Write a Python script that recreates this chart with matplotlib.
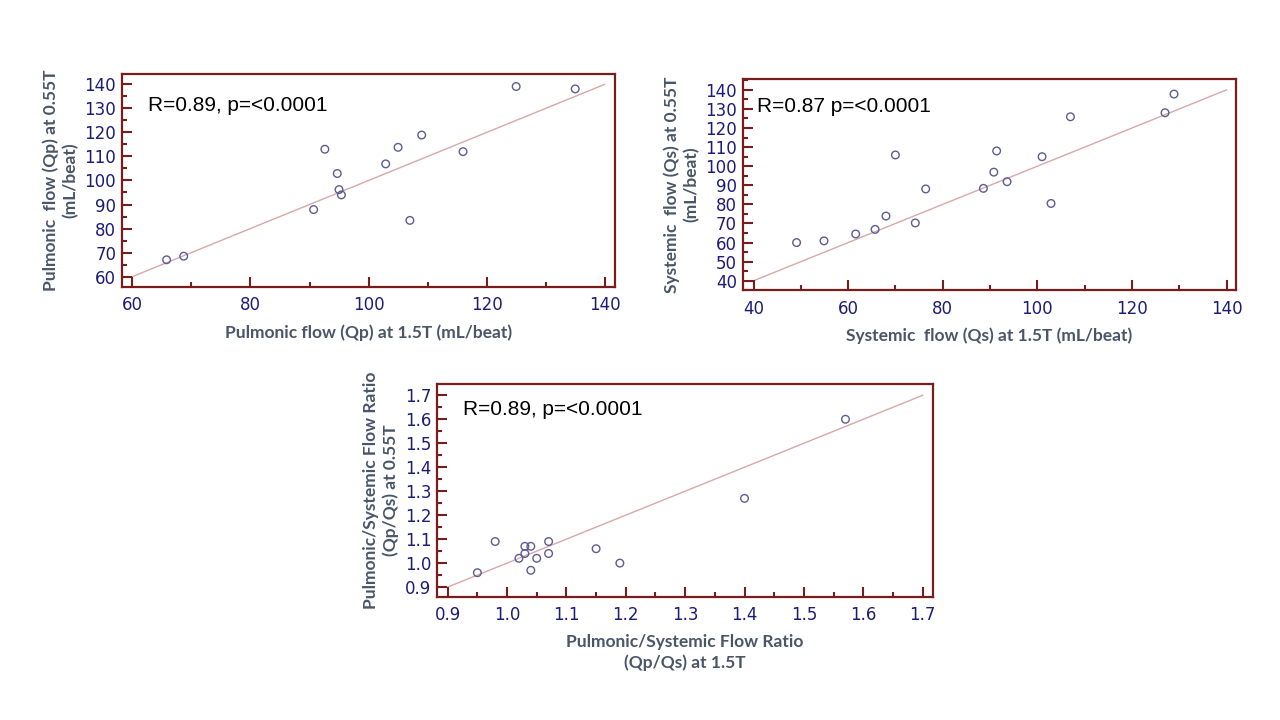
import matplotlib
matplotlib.use("Agg")
import matplotlib.pyplot as plt
from matplotlib.ticker import MultipleLocator

# ---- data ----
qp_15 = [65.8, 68.7, 90.7, 92.6, 94.7, 95.0, 95.4, 102.9, 105.0, 107.0, 109.0, 116.0, 125.0, 135.0]
qp_055 = [67.0, 68.5, 87.9, 113.0, 102.9, 96.2, 94.0, 106.9, 113.8, 83.4, 118.9, 112.0, 139.1, 138.1]

qs_15 = [49.1, 54.9, 61.6, 65.7, 68.0, 70.0, 74.2, 76.4, 88.6, 90.8, 91.4, 93.6, 101.0, 102.9, 107.0, 127.0, 128.9]
qs_055 = [60.0, 60.9, 64.5, 66.9, 73.9, 105.9, 70.3, 88.1, 88.4, 96.9, 108.0, 91.9, 105.0, 80.5, 125.9, 128.0, 137.8]

ratio_15 = [0.95, 0.98, 1.02, 1.03, 1.03, 1.04, 1.04, 1.05, 1.07, 1.07, 1.15, 1.19, 1.40, 1.57]
ratio_055 = [0.96, 1.09, 1.02, 1.07, 1.04, 1.07, 0.97, 1.02, 1.09, 1.04, 1.06, 1.00, 1.27, 1.60]

ann1 = "R=0.89, p=<0.0001"
ann2 = "R=0.87 p=<0.0001"
ann3 = "R=0.89, p=<0.0001"

xlab1 = "Pulmonic flow (Qp) at 1.5T (mL/beat)"
ylab1 = "Pulmonic  flow (Qp) at 0.55T\n(mL/beat)"
xlab2 = "Systemic  flow (Qs) at 1.5T (mL/beat)"
ylab2 = "Systemic  flow (Qs) at 0.55T\n(mL/beat)"
xlab3 = "Pulmonic/Systemic Flow Ratio\n(Qp/Qs) at 1.5T"
ylab3 = "Pulmonic/Systemic Flow Ratio\n(Qp/Qs) at 0.55T"

FRAME = "#7a1c1c"
TICKLAB = "#1c1c78"
LABEL = "#4a5568"
MARK = "#5c5c94"
LINE = "#d8a8a8"

fig = plt.figure(figsize=(12.8, 7.2), dpi=100)
fig.patch.set_facecolor("white")

def setup(ax, xlim, ylim, xmaj, xmin, ymaj, ymin, linerange, xs, ys, ann, annpos,
          xlab, ylab, fmt):
    ax.plot(linerange, linerange, color=LINE, lw=1.0, zorder=1)
    ax.scatter(xs, ys, s=30, facecolors="none", edgecolors=MARK, linewidths=1.0, zorder=3)
    ax.set_xlim(*xlim)
    ax.set_ylim(*ylim)
    ax.xaxis.set_major_locator(MultipleLocator(xmaj))
    ax.xaxis.set_minor_locator(MultipleLocator(xmin))
    ax.yaxis.set_major_locator(MultipleLocator(ymaj))
    ax.yaxis.set_minor_locator(MultipleLocator(ymin))
    ax.xaxis.set_major_formatter(matplotlib.ticker.FormatStrFormatter(fmt))
    ax.yaxis.set_major_formatter(matplotlib.ticker.FormatStrFormatter(fmt))
    for sp in ax.spines.values():
        sp.set_color(FRAME)
        sp.set_linewidth(1.6)
    ax.tick_params(which="both", direction="in", color=FRAME, width=1.5,
                   top=False, right=False)
    ax.tick_params(which="major", length=7.5)
    ax.tick_params(which="minor", length=3.5)
    ax.tick_params(axis="x", which="major", pad=7, labelsize=12, labelcolor=TICKLAB)
    ax.tick_params(axis="y", which="major", pad=4, labelsize=12, labelcolor=TICKLAB)
    ax.text(annpos[0], annpos[1], ann, transform=ax.transAxes, fontsize=15,
            family="Liberation Sans", color="black", ha="left", va="center")
    ax.set_xlabel(xlab, fontsize=12.5, fontweight="bold", family="Lato", color=LABEL,
                  labelpad=7, linespacing=1.3)
    ax.set_ylabel(ylab, fontsize=12.5, fontweight="bold", family="Lato", color=LABEL,
                  labelpad=4, linespacing=1.3)

ax1 = fig.add_axes([0.0951, 0.6018, 0.3852, 0.2954])
setup(ax1, (58.2, 141.7), (55.8, 144.3), 20, 10, 10, 5, [60, 140], qp_15, qp_055,
      ann1, (0.053, 0.854), xlab1, ylab1, "%d")

ax2 = fig.add_axes([0.5802, 0.5968, 0.3854, 0.2935])
setup(ax2, (37.7, 142.0), (35.0, 145.7), 20, 10, 10, 5, [40, 140], qs_15, qs_055,
      ann2, (0.030, 0.869), xlab2, ylab2, "%d")

ax3 = fig.add_axes([0.3414, 0.1713, 0.3873, 0.2950])
setup(ax3, (0.882, 1.717), (0.860, 1.746), 0.1, 0.05, 0.1, 0.05, [0.9, 1.7], ratio_15, ratio_055,
      ann3, (0.053, 0.879), xlab3, ylab3, "%.1f")

fig.savefig("out.png", dpi=100, facecolor="white")
